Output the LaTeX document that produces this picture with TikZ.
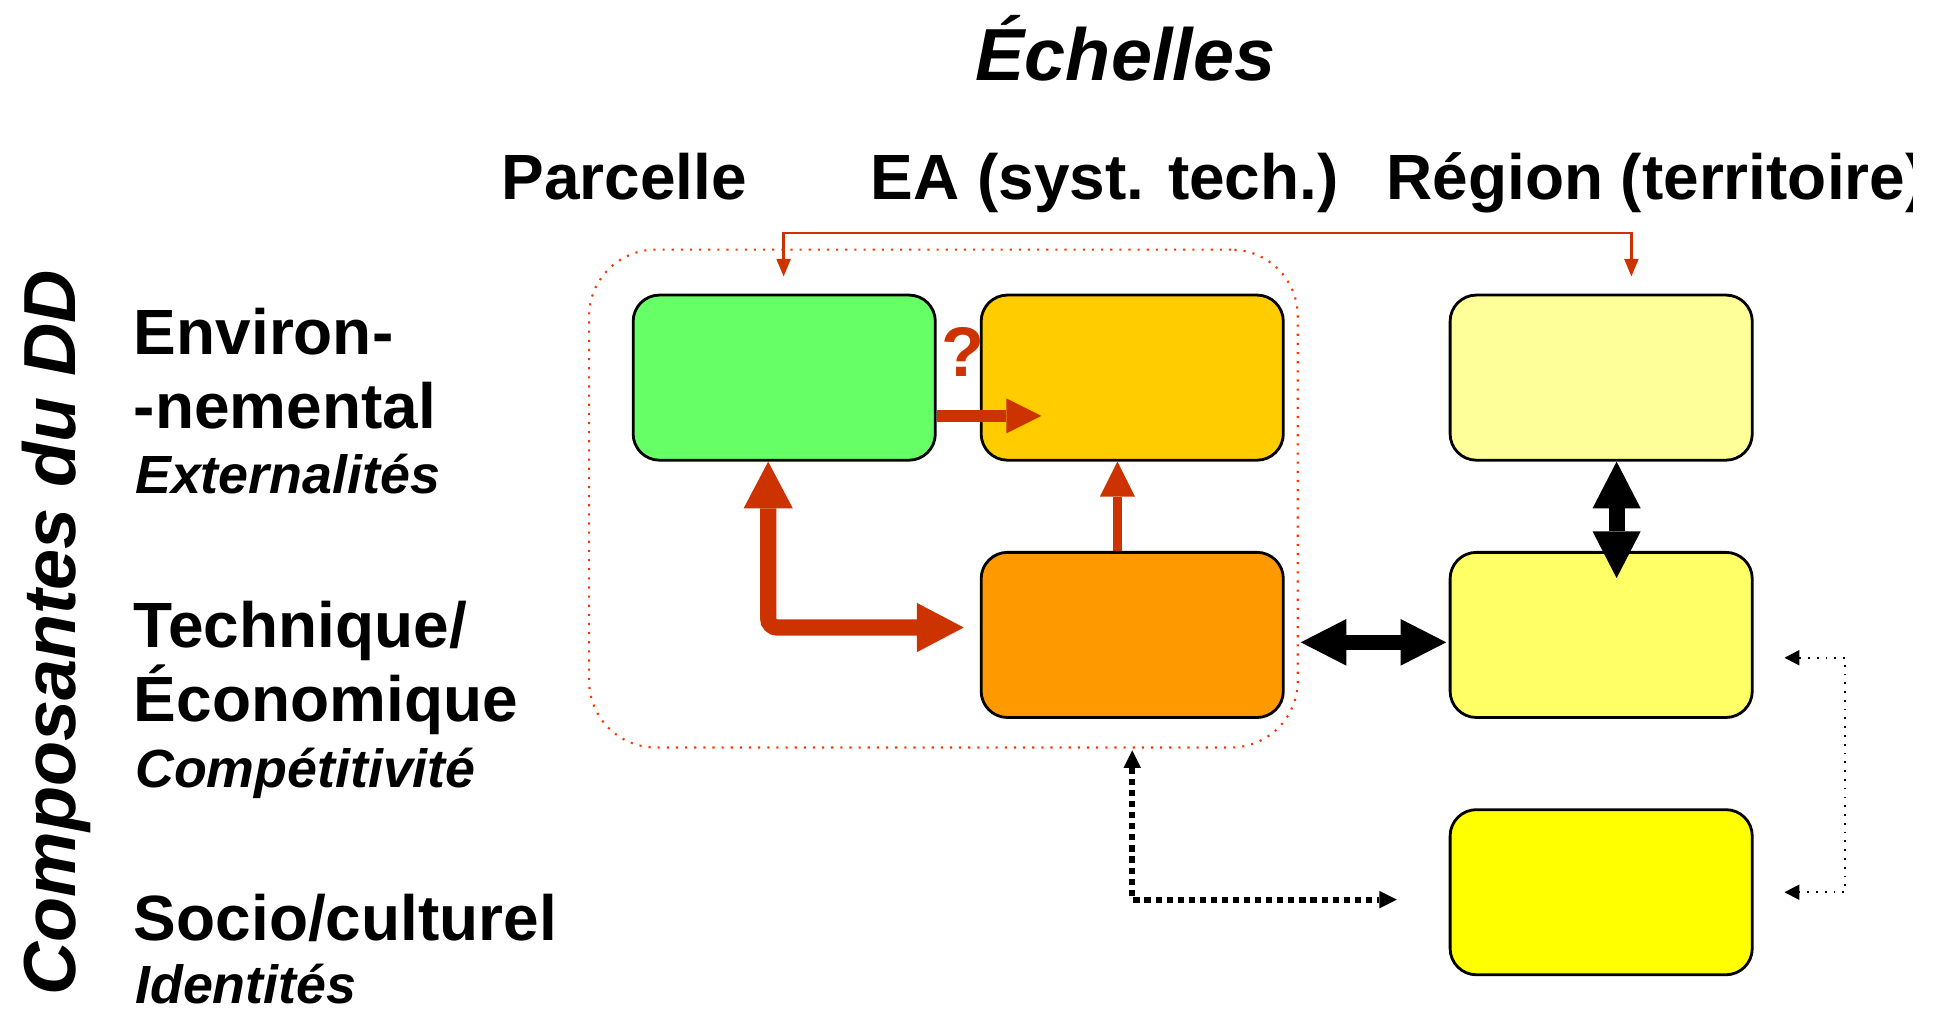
\documentclass[tikz,border=0pt]{standalone}
\usepackage{fontspec}
\setmainfont{Liberation Sans}
\usetikzlibrary{arrows.meta,calc}
\definecolor{cgreen}{HTML}{66FF66}
\definecolor{cgold}{HTML}{FFCC00}
\definecolor{corange}{HTML}{FF9900}
\definecolor{clyellow}{HTML}{FFFF99}
\definecolor{cmyellow}{HTML}{FFFF66}
\definecolor{cyellow}{HTML}{FFFF00}
\definecolor{cred}{HTML}{CC3300}
\definecolor{cframe}{HTML}{FF3300}
\begin{document}
\begin{tikzpicture}[x=0.01234cm,y=-0.01234cm,
  box/.style={draw=black,line width=0.8pt,rounded corners=7.5pt,minimum width=86pt,minimum height=47pt,inner sep=0pt},
  hdr/.style={font=\fontsize{18.2}{20}\selectfont\bfseries,inner sep=0pt,anchor=base west},
  sub/.style={font=\fontsize{15.3}{17}\selectfont\bfseries\itshape,inner sep=0pt,anchor=base west},
  big/.style={font=\fontsize{21}{23}\selectfont\bfseries\itshape,inner sep=0pt},
  redthin/.style={draw=cred,line width=0.7pt},
  redthick/.style={draw=cred,line width=#1},
  blackthick/.style={draw=black,line width=#1}
]
\useasboundingbox (0,0) rectangle (1568,818);

% titles
\node[big,anchor=base] (ech) at (912,65) {Échelles};
\node[big,anchor=base,rotate=90] (comp) at (61,513) {Composantes du DD};
\node[hdr] (parc) at (406,162) {Parcelle};
\node[hdr] (ea) at (705,162) {EA (syst. tech.)};
\begin{scope}
\clip (1100,100) rectangle (1550,200);
\node[hdr] (reg) at (1123,162) {Région (territoire)};
\end{scope}

% row labels
\node[hdr] (env1) at (108,287) {Environ-};
\node[hdr] (env2) at (108,347) {-nemental};
\node[sub] (env3) at (109,400) {Externalités};
\node[hdr] (tec1) at (108,525) {Technique/};
\node[hdr] (tec2) at (108,585) {Économique};
\node[sub] (tec3) at (109,638) {Compétitivité};
\node[hdr] (soc1) at (108,762) {Socio/culturel};
\node[sub] (soc2) at (109,813) {Identités};

% dotted frame
\node[draw=cframe,dotted,line width=0.6pt,rounded corners=19pt,minimum width=201.7pt,minimum height=141.7pt,inner sep=0pt] (frame) at (764.5,404) {};

% boxes
\node[box,fill=cgreen] (green) at (635.5,306) {};
\node[box,fill=cgold] (gold) at (917.5,306) {};
\node[box,fill=corange] (orange) at (917.5,514.5) {};
\node[box,fill=clyellow] (ly) at (1297.5,306) {};
\node[box,fill=cmyellow] (my) at (1297.5,514.5) {};
\node[box,fill=cyellow] (yl) at (1297.5,723) {};

% question mark
\node[font=\fontsize{20}{22}\selectfont\bfseries,text=cred,inner sep=0pt] (q) at (780,285) {?};

% top thin red connector
\coordinate (tA) at ($(green.north)+(-0.5,-14)$);
\coordinate (tB) at ($(ly.north)+(24.5,-14)$);
\draw[redthin,{Triangle[width=4.2pt,length=5pt,line width=0pt]}-{Triangle[width=4.2pt,length=5pt,line width=0pt]}]
  (tA) -- ++(0,-35) -| (tB);

% red thick arrows
\coordinate (gE) at ($(green.east)+(0,31)$);
\coordinate (gT) at ($(gold.west)+(50,31)$);
\draw[redthick=3.4pt,-{Triangle[width=10pt,length=10pt,line width=0pt]}] (gE) -- (gT);

\draw[redthick=2.8pt,-{Triangle[width=10pt,length=10pt,line width=0pt]}] ($(orange.north)+(-12,0)$) -- ($(gold.south)+(-12,0)$);

\draw[redthick=4.6pt,rounded corners=2.5pt,{Triangle[width=14pt,length=13.3pt,line width=0pt]}-{Triangle[width=14pt,length=13.3pt,line width=0pt]}]
  ($(green.south)+(-13,0)$) |- ($(orange.west)+(-13,-6)$);

% black thick arrows
\draw[blackthick=4.2pt,{Triangle[width=13.3pt,length=13pt,line width=0pt]}-{Triangle[width=13.3pt,length=13pt,line width=0pt]}]
  ($(orange.east)+(13,6)$) -- ($(my.west)+(-2,6)$);
\draw[blackthick=4.5pt,{Triangle[width=13.7pt,length=13.3pt,line width=0pt]}-{Triangle[width=13.7pt,length=13.3pt,line width=0pt]}]
  ($(ly.south)+(12.5,0)$) -- ($(my.north)+(12.5,22)$);

% black dotted thick
\draw[draw=black,line width=1.7pt,dash pattern=on 1.75pt off 1.4pt,{Triangle[width=5pt,length=5pt,line width=0pt]}-{Triangle[width=5pt,length=5pt,line width=0pt]}]
  ($(orange.south)+(0,25.5)$) |- ($(yl.west)+(-42,6)$);

% black thin dotted
\draw[draw=black,line width=0.5pt,dotted,{Triangle[width=4.4pt,length=4.2pt,line width=0pt]}-{Triangle[width=4.4pt,length=4.2pt,line width=0pt]}]
  ($(my.east)+(25,18.5)$) -- ++(49,0) |- ($(yl.east)+(25,0)$);
\end{tikzpicture}
\end{document}
